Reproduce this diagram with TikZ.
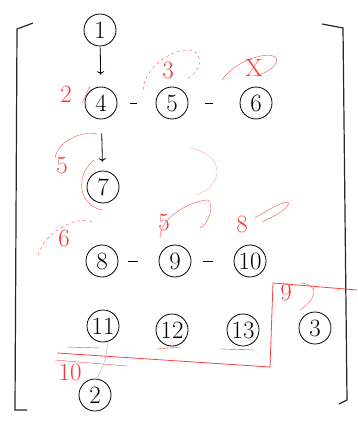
\documentclass[tikz,border=0pt]{standalone}
\usepackage{tikz}
\usetikzlibrary{arrows.meta}

\begin{document}
\begin{tikzpicture}[
  x=1pt, y=-1pt,
  every node/.style={font=\LARGE},
  num/.style={draw, circle, thick, minimum size=32pt, inner sep=0pt, font=\Huge},
  link/.style={thick},
  down/.style={->, thick},
  redmark/.style={red!80, font=\Huge},
  scrib/.style={red!70, thin}
]

%% ── frame ────────────────────────────────────────────────────────────────────
\useasboundingbox (0,0) rectangle (357,422);
\draw[very thick, gray!30!black] (33,23) -- (17,29) -- (15,410) -- (27,410);
\draw[very thick, gray!30!black] (322,24) -- (343,28) -- (347,400) -- (339,404);

%% ── numbered circles ─────────────────────────────────────────────────────────
\node[num] (n1)  at (100,30)  {1};
\node[num] (n4)  at (101,103) {4};
\node[num] (n5)  at (172,103) {5};
\node[num] (n6)  at (256,103) {6};
\node[num] (n7)  at (103,187) {7};
\node[num] (n8)  at (102,261) {8};
\node[num] (n9)  at (175,261) {9};
\node[num] (n10) at (250,261) {10};
\node[num] (n11) at (103,326) {11};
\node[num] (n12) at (172,330) {12};
\node[num] (n13) at (243,330) {13};
\node[num] (n3)  at (315,328) {3};
\node[num] (n2)  at (95,395)  {2};

%% ── links ────────────────────────────────────────────────────────────────────
\draw[down, shorten <=1pt, shorten >=12pt] (n1) -- (n4);
\draw[down, shorten <=14pt, shorten >=9pt] (n4) -- (n7);
\draw[link, shorten <=13pt, shorten >=19pt] (n4) -- (n5);
\draw[link, shorten <=17pt, shorten >=27pt] (n5) -- (n6);
\draw[link, shorten <=10pt, shorten >=21pt] (n8) -- (n9);
\draw[link, shorten <=12pt, shorten >=21pt] (n9) -- (n10);

%% ── red order marks ──────────────────────────────────────────────────────────
\node[redmark] (m2)  at (66,94)  {2};
\node[redmark] (m3)  at (168,70) {3};
\node[redmark] (m4)  at (254,68) {X};
\node[redmark] (m5)  at (62,165) {5};
\node[redmark] (m6)  at (64,238) {6};
\node[redmark] (m7)  at (164,222) {5};
\node[redmark] (m8)  at (242,224) {8};
\node[redmark] (m9)  at (286,292) {9};
\node[redmark] (m10) at (70,372) {10};

%% ── red scribbles ────────────────────────────────────────────────────────────
\draw[scrib] (82,103) -- (90,86);
\draw[scrib, dashed] (143,90) .. controls (145,60) and (190,40) .. (198,55)
  .. controls (203,65) and (195,75) .. (185,80);
\draw[scrib] (222,80) .. controls (235,60) and (270,50) .. (276,58)
  .. controls (280,65) and (265,75) .. (252,76);
\draw[scrib] (55,158) .. controls (58,140) and (85,130) .. (97,134);
\draw[scrib] (94,160) .. controls (75,175) and (78,205) .. (102,210);
\draw[scrib, red!35] (190,148) .. controls (225,155) and (225,185) .. (196,195);
\draw[scrib, dashed] (38,255) .. controls (45,230) and (80,215) .. (92,222);
\draw[scrib] (160,238) .. controls (160,215) and (195,200) .. (208,200)
  .. controls (215,205) and (208,225) .. (200,228);
\draw[scrib] (255,218) .. controls (275,205) and (292,198) .. (288,205)
  .. controls (284,212) and (270,218) .. (262,222);
\draw[scrib] (300,283) .. controls (322,285) and (315,300) .. (300,310);

%% ── red boundary ─────────────────────────────────────────────────────────────
\draw[red!75, thick] (57,353) -- (270,367) -- (273,283) -- (357,290);
\draw[red!75] (55,360) -- (127,366);
\draw[red!75] (67,347) -- (100,348);
\draw[red!75] (157,349) -- (180,347);
\draw[red!75] (220,349) -- (255,350);

%% ── grey stroke 11 to 2 ──────────────────────────────────────────────────────
\draw[gray!60, thin] (108,342) .. controls (106,360) and (102,372) .. (95,380);

\end{tikzpicture}
\end{document}
